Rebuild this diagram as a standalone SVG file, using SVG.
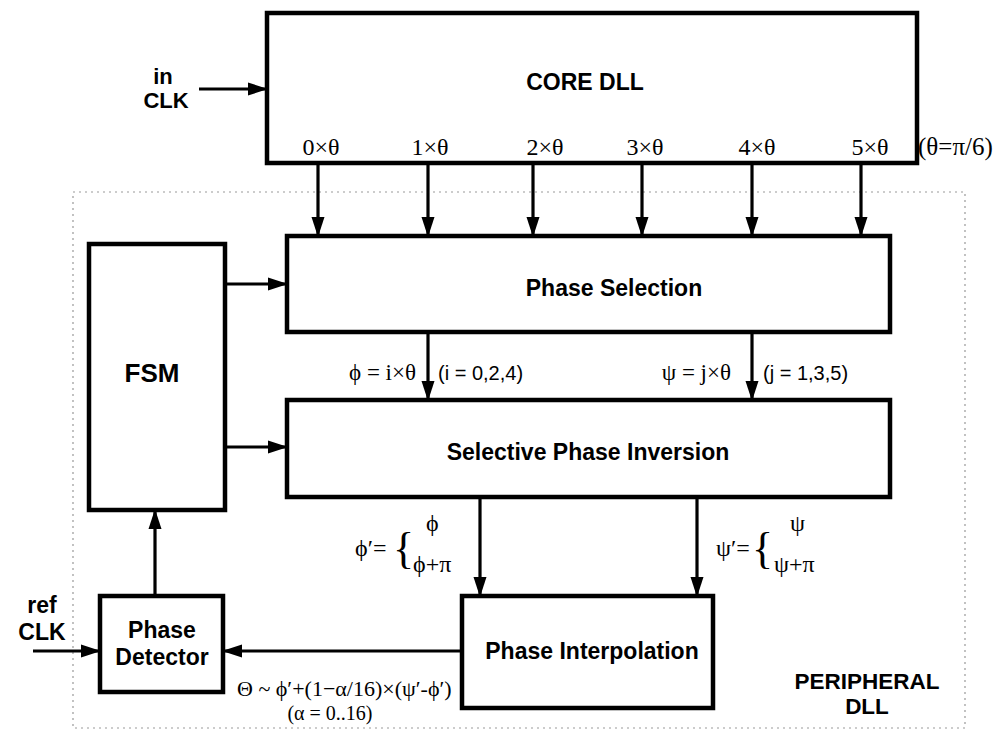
<svg xmlns="http://www.w3.org/2000/svg" width="998" height="731" viewBox="0 0 998 731">
<defs>
<marker id="ah" markerUnits="userSpaceOnUse" markerWidth="20" markerHeight="14" refX="19" refY="7" orient="auto">
<path d="M0,0.5 L20,7 L0,13.5 Z" fill="#000"/>
</marker>
</defs>
<style>
.box{fill:#fff;stroke:#000;stroke-width:4.5}
.b{font-family:"Liberation Sans",Arial,sans-serif;font-weight:bold;font-size:23px;fill:#000}
.s{font-family:"Liberation Serif","Times New Roman",serif;font-size:24px;fill:#000}
.n{font-family:"Liberation Sans",Arial,sans-serif;font-size:20px;fill:#000}
.c{stroke:#000;stroke-width:3.2;fill:none;marker-end:url(#ah)}
.mid{text-anchor:middle}
.end{text-anchor:end}
</style>
<rect width="998" height="731" fill="#fff"/>
<rect id="peripheral-border" x="73" y="192" width="892" height="536" fill="none" stroke="#999" stroke-width="1.2" stroke-dasharray="2 4"/>

<g id="core-dll">
<rect class="box" x="267" y="13" width="650" height="150"/>
<text class="b mid" x="585" y="90">CORE DLL</text>
<text class="s mid" x="321" y="155">0×θ</text>
<text class="s mid" x="430" y="155">1×θ</text>
<text class="s mid" x="545" y="155">2×θ</text>
<text class="s mid" x="645" y="155">3×θ</text>
<text class="s mid" x="757" y="155">4×θ</text>
<text class="s mid" x="870" y="155">5×θ</text>
</g>
<text class="s" x="918" y="155" style="font-size:25px">(θ=π/6)</text>

<g id="in-clk">
<text class="b mid" x="163" y="84" style="font-size:22px">in</text>
<text class="b mid" x="166" y="108" style="font-size:22px">CLK</text>
</g>

<g id="phase-selection">
<rect class="box" x="287" y="236" width="603" height="96"/>
<text class="b mid" x="614" y="296">Phase Selection</text>
</g>

<g id="fsm">
<rect class="box" x="89" y="244" width="136" height="266"/>
<text class="b mid" x="152" y="382" style="font-size:26px">FSM</text>
</g>

<g id="selective-phase-inversion">
<rect class="box" x="287" y="400" width="603" height="97"/>
<text class="b mid" x="588" y="460">Selective Phase Inversion</text>
</g>

<g id="phase-interpolation">
<rect class="box" x="462" y="596" width="251" height="112"/>
<text class="b mid" x="592" y="659">Phase Interpolation</text>
</g>

<g id="phase-detector">
<rect class="box" x="100" y="596" width="123" height="96"/>
<text class="b mid" x="162" y="638">Phase</text>
<text class="b mid" x="162" y="665">Detector</text>
</g>

<g id="ref-clk">
<text class="b mid" x="42" y="613">ref</text>
<text class="b mid" x="42" y="640">CLK</text>
</g>

<g id="peripheral-label">
<text class="b mid" x="867" y="689" style="font-size:22.5px">PERIPHERAL</text>
<text class="b mid" x="867" y="714" style="font-size:22.5px">DLL</text>
</g>

<g id="connectors">
<line class="c" x1="199" y1="89" x2="267" y2="89"/>
<line class="c" x1="318" y1="163" x2="318" y2="236"/>
<line class="c" x1="428" y1="163" x2="428" y2="236"/>
<line class="c" x1="533" y1="163" x2="533" y2="236"/>
<line class="c" x1="642" y1="163" x2="642" y2="236"/>
<line class="c" x1="752" y1="163" x2="752" y2="236"/>
<line class="c" x1="861" y1="163" x2="861" y2="236"/>
<line class="c" x1="225" y1="284" x2="287" y2="284"/>
<line class="c" x1="225" y1="447" x2="287" y2="447"/>
<line class="c" x1="428" y1="332" x2="428" y2="400"/>
<line class="c" x1="752" y1="332" x2="752" y2="400"/>
<line class="c" x1="480" y1="497" x2="480" y2="596"/>
<line class="c" x1="697" y1="497" x2="697" y2="596"/>
<line class="c" x1="155" y1="596" x2="155" y2="510"/>
<line class="c" x1="462" y1="651" x2="223" y2="651"/>
<line class="c" x1="33" y1="651" x2="100" y2="651"/>
</g>

<g id="labels">
<text class="s end" x="416" y="380" style="font-size:23px">ϕ = i×θ</text>
<text class="n" x="438" y="380">(i = 0,2,4)</text>
<text class="s end" x="731" y="380" style="font-size:23px">ψ = j×θ</text>
<text class="n" x="763" y="380">(j = 1,3,5)</text>
<text class="s" x="355" y="556">ϕ′=</text>
<text class="s" x="393" y="563" style="font-size:44px">{</text>
<text class="s" x="426" y="531">ϕ</text>
<text class="s" x="413" y="572">ϕ+π</text>
<text class="s" x="716" y="556">ψ′=</text>
<text class="s" x="752" y="563" style="font-size:44px">{</text>
<text class="s" x="790" y="531">ψ</text>
<text class="s" x="774" y="572">ψ+π</text>
<text class="s" x="237" y="696" style="font-size:22px">Θ ~ ϕ′+(1−α/16)×(ψ′-ϕ′)</text>
<text class="s mid" x="330" y="720" style="font-size:20px">(α = 0..16)</text>
</g>
</svg>
